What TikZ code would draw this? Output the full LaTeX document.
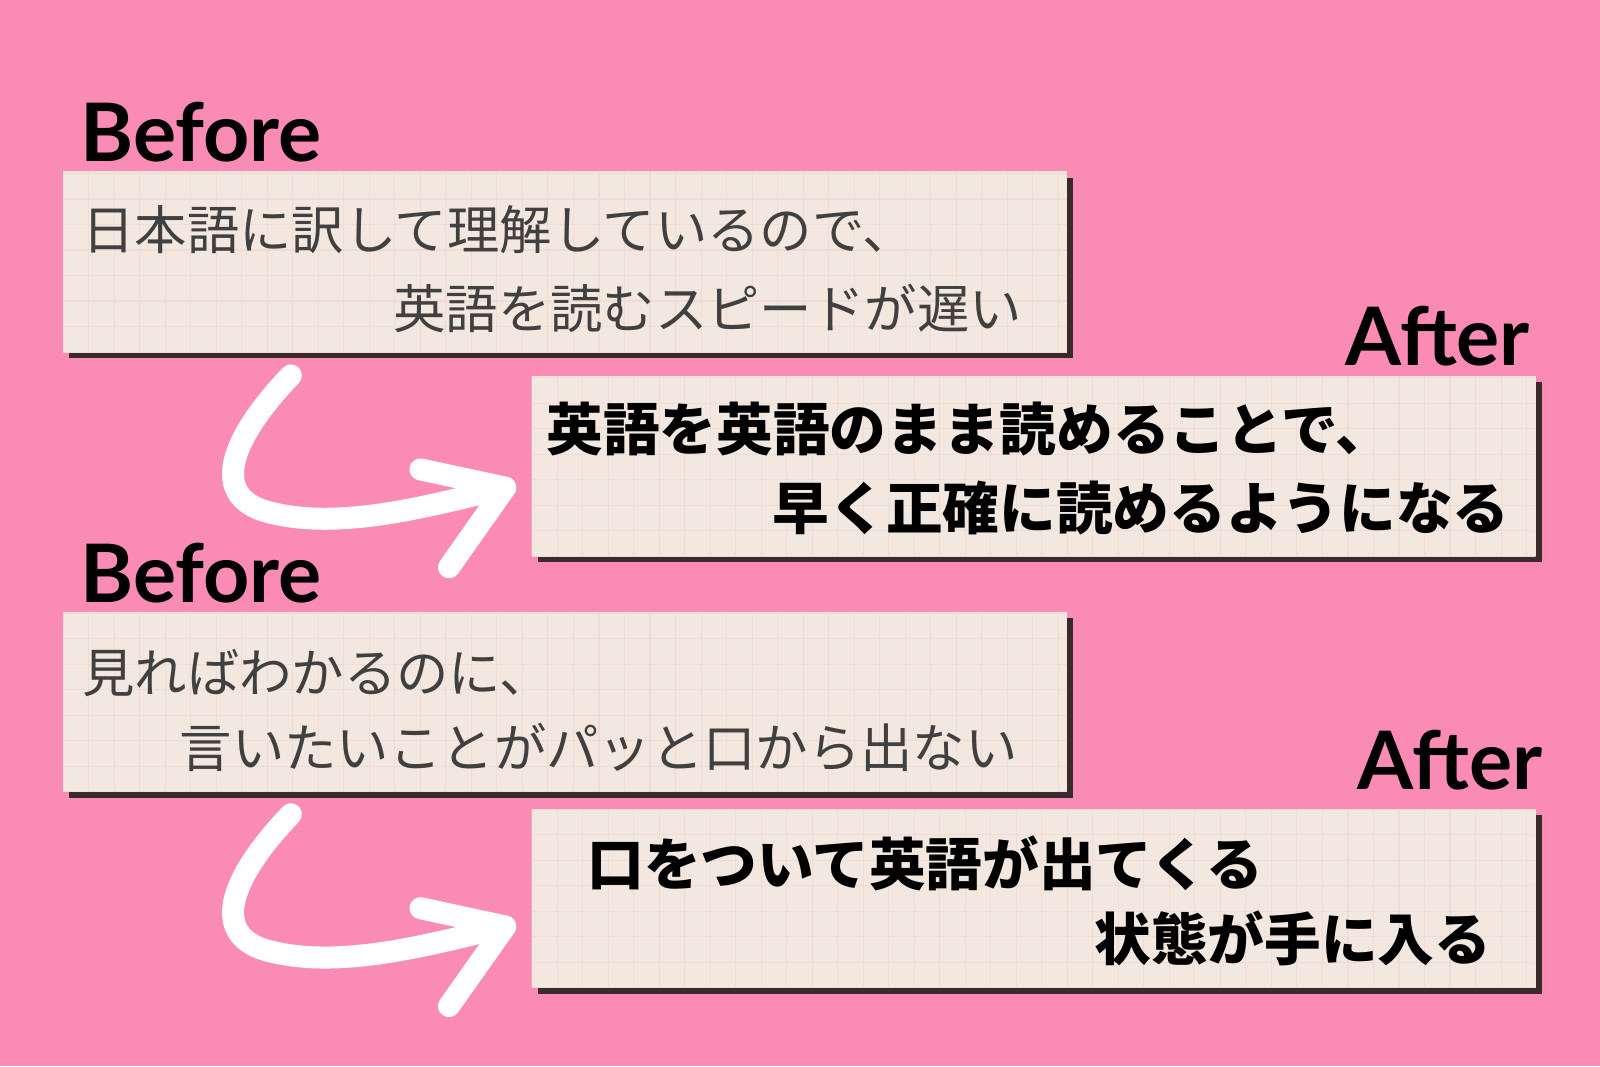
\documentclass[tikz,border=0pt]{standalone}
\usepackage{fontspec}
\setmainfont{Lato}
\newfontfamily\jpfont{Noto Sans CJK JP}
\usetikzlibrary{positioning}
\definecolor{bgpink}{HTML}{F98BB5}
\definecolor{paper}{HTML}{F3E8DF}
\definecolor{gridc}{HTML}{EFDCD6}
\definecolor{shade}{HTML}{3A2A2E}
\tikzset{
  card/.style={fill=paper, draw=none},
  cardshadow/.style={fill=shade, draw=none},
  tag/.style={font=\fontsize{22.5}{22.5}\selectfont\bfseries, inner sep=0pt},
  thin text/.style={font=\jpfont\fontsize{14.6}{14.6}\selectfont, text=black!75, inner sep=0pt},
  bold text/.style={font=\jpfont\bfseries\fontsize{15.8}{15.8}\selectfont, inner sep=0pt},
  brush/.style={white, line width=0.22cm, line cap=round, line join=round}
}
\begin{document}
\begin{tikzpicture}[scale=1.0204, every node/.style={transform shape}]
  \fill [bgpink] (0,0.213) rectangle (15.68,10.66);
  \useasboundingbox (0,0.213) rectangle (15.68,10.66);

  % cards: left, bottom, right, top
  \foreach \l/\b/\r/\t in {0.62/7.21/10.46/8.98, 5.21/5.21/15.05/6.98,
                           0.62/2.90/10.46/4.66, 5.21/0.98/15.05/2.73}{
    \fill [cardshadow] (\l+0.06,\b-0.06) rectangle (\r+0.06,\t-0.06);
    \fill [card] (\l,\b) rectangle (\r,\t);
    \begin{scope}
      \clip (\l,\b) rectangle (\r,\t);
      \draw [gridc, line width=0.3pt, step=0.25, shift={(\l,\b)}] (0,0) grid (\r-\l,\t-\b);
    \end{scope}
  }

  \node [tag, anchor=base west] (before1) at (0.78,9.08) {Before};
  \node [tag, anchor=base east] (after1) at (15.00,7.08) {After};
  \node [tag, anchor=base west] (before2) at (0.78,4.76) {Before};
  \node [tag, anchor=base east] (after2) at (15.12,2.92) {After};

  \node [thin text, anchor=west] (b1a) at (0.80,8.41) {日本語に訳して理解しているので、};
  \node [thin text, anchor=east] (b1b) at (10.02,7.64) {英語を読むスピードが遅い};
  \node [bold text, anchor=west] (a1a) at (5.35,6.46) {英語を英語のまま読めることで、};
  \node [bold text, anchor=east] (a1b) at (14.80,5.68) {早く正確に読めるようになる};
  \node [thin text, anchor=west] (b2a) at (0.80,4.06) {見ればわかるのに、};
  \node [thin text, anchor=east] (b2b) at (9.98,3.34) {言いたいことがパッと口から出ない};
  \node [bold text, anchor=west] (a2a) at (5.75,2.20) {口をついて英語が出てくる};
  \node [bold text, anchor=east] (a2b) at (14.62,1.46) {状態が手に入る};

  % arrows
  \foreach \dy in {0,4.30}{
    \coordinate (tail) at (2.85,6.98-\dy);
    \coordinate (tip) at (4.95,5.88-\dy);
    \draw [brush] (tail) .. controls (2.20,6.30-\dy) and (2.10,5.80-\dy) .. (2.60,5.65-\dy)
                  .. controls (3.30,5.45-\dy) and (4.20,5.70-\dy) .. (tip);
    \draw [brush] (4.12,6.06-\dy) -- (tip) -- (4.40,5.10-\dy);
  }
\end{tikzpicture}
\end{document}
